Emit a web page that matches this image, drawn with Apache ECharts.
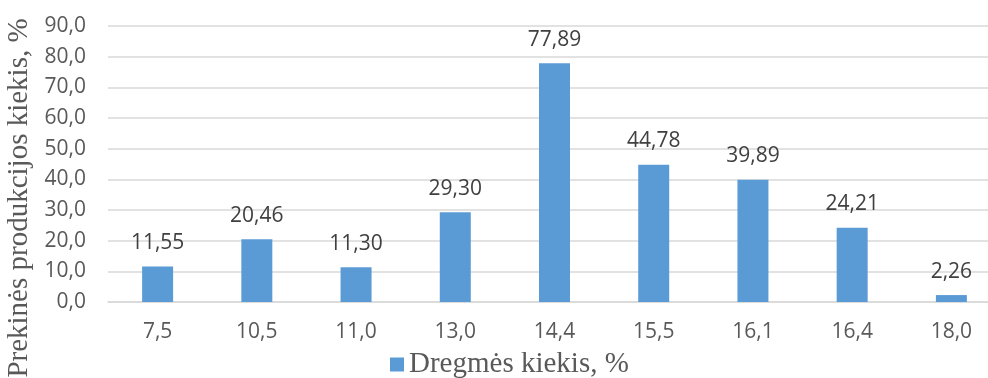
<!DOCTYPE html>
<html>
<head>
<meta charset="utf-8">
<script src="https://cdn.jsdelivr.net/npm/echarts@6/dist/echarts.min.js"></script>
<style>html,body{margin:0;padding:0;background:#fff;}#c{width:988px;height:378px;}</style>
</head>
<body>
<div id="c"></div>
<script>
const categories = ['7,5', '10,5', '11,0', '13,0', '14,4', '15,5', '16,1', '16,4', '18,0'];
const values = [11.55, 20.46, 11.30, 29.30, 77.89, 44.78, 39.89, 24.21, 2.26];
const seriesName = 'Dregmės kiekis, %';
const yAxisTitle = 'Prekinės produkcijos kiekis, %';

const chart = echarts.init(document.getElementById('c'), null, {renderer: 'canvas'});
const sans = '"Open Sans", "Liberation Sans", sans-serif';
const serif = '"Liberation Serif", "DejaVu Serif", serif';
chart.setOption({
  animation: false,
  backgroundColor: '#ffffff',
  grid: {left: 108, right: -13, top: 26, bottom: 76, outerBoundsMode: 'none', containLabel: false},
  legend: {
    data: [seriesName],
    left: 385, top: 345,
    icon: 'rect', itemWidth: 14, itemHeight: 14, itemGap: 6,
    textStyle: {fontFamily: serif, fontSize: 29, color: '#595959'}
  },
  xAxis: {
    type: 'category',
    data: categories,
    axisTick: {show: false},
    axisLine: {lineStyle: {color: '#D9D9D9', width: 1.5}},
    axisLabel: {fontFamily: sans, fontSize: 21, color: '#595959', margin: 20}
  },
  yAxis: {
    type: 'value',
    min: 0, max: 90, interval: 10,
    name: yAxisTitle,
    nameLocation: 'middle',
    nameRotate: 90,
    nameGap: 68,
    nameTextStyle: {fontFamily: serif, fontSize: 29, color: '#595959', padding: [0, 68, 0, 0]},
    axisLine: {show: false},
    axisTick: {show: false},
    splitLine: {lineStyle: {color: '#D9D9D9', width: 1.5}},
    axisLabel: {
      fontFamily: sans, fontSize: 21, color: '#595959', margin: 22,
      formatter: v => v.toFixed(1).replace('.', ',')
    }
  },
  series: [{
    name: seriesName,
    type: 'bar',
    data: values,
    barWidth: 31,
    itemStyle: {color: '#5B9BD5'},
    label: {
      show: true, position: 'top', distance: 13,
      fontFamily: sans, fontSize: 21, color: '#404040',
      formatter: p => p.value.toFixed(2).replace('.', ',')
    }
  }]
});
</script>
</body>
</html>
